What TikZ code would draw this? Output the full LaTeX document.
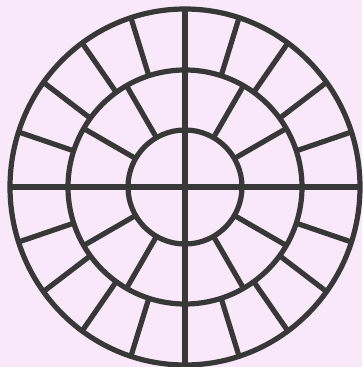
\documentclass[tikz,border=0pt]{standalone}
\usetikzlibrary{calc}
\definecolor{bgpink}{HTML}{F9E8F9}
\definecolor{ink}{HTML}{383838}
\begin{document}
\begin{tikzpicture}[x=1pt,y=1pt,
  wheel/.style={draw=ink,line width=5.2pt,line cap=round,line join=round}]
\fill[bgpink] (0,0) rectangle (362,367);
\useasboundingbox (0,0) rectangle (362,367);
\coordinate (c) at (185,180);
% rings
\draw[wheel] (c) ellipse [x radius=175, y radius=178];
\draw[wheel] (c) circle [radius=117];
\draw[wheel] (c) circle [radius=57];
% cross
\draw[wheel,line cap=butt] ($(c)+(-175,0)$) -- ($(c)+(175,0)$);
\draw[wheel,line cap=butt] ($(c)+(0,-178)$) -- ($(c)+(0,178)$);
% inner spokes (30 deg)
\foreach \a in {30,60,120,150,210,240,300,330}
  \draw[wheel,line cap=butt] ($(c)+(\a:57)$) -- ($(c)+(\a:117)$);
% outer spokes (18 deg)
\foreach \a in {18,36,54,72,108,126,144,162,198,216,234,252,288,306,324,342}
  \draw[wheel,line cap=butt] ($(c)+(\a:117)$) -- ($(c)+({175*cos(\a)},{178*sin(\a)})$);
\end{tikzpicture}
\end{document}
